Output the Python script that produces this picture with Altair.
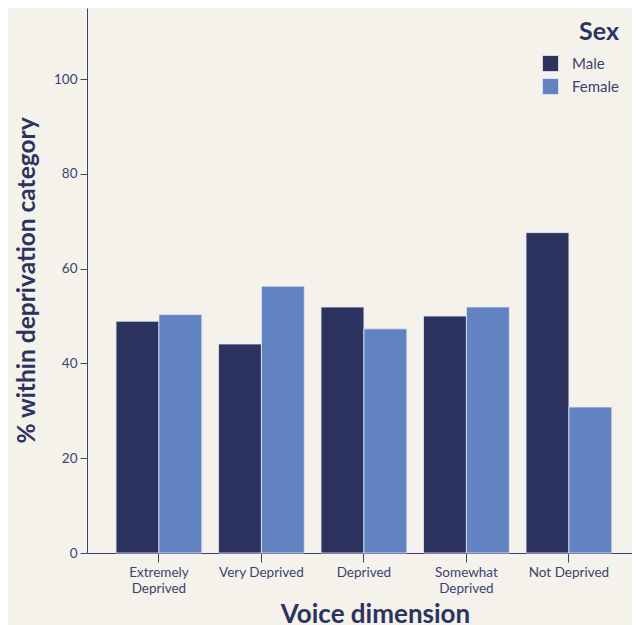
import altair as alt
import pandas as pd

categories = ["Extremely Deprived", "Very Deprived", "Deprived", "Somewhat Deprived", "Not Deprived"]
male = [48.9, 44.1, 51.9, 50.0, 67.6]
female = [50.3, 56.3, 47.3, 51.9, 30.8]
sexes = ["Male", "Female"]
colors = ["#2c335e", "#6283c2"]

rows = []
for c, m, f in zip(categories, male, female):
    rows.append({"dim": c, "sex": "Male", "pct": m})
    rows.append({"dim": c, "sex": "Female", "pct": f})
df = pd.DataFrame(rows)

FONT = "Lato"
TXT = "#3b4272"
DARK = "#2b3360"

label_expr = ("datum.value == 'Extremely Deprived' ? ['Extremely', 'Deprived'] : "
              "datum.value == 'Somewhat Deprived' ? ['Somewhat', 'Deprived'] : datum.value")

chart = alt.Chart(df).mark_bar(stroke="#e4e8f2", strokeWidth=0.8).encode(
    x=alt.X("dim:N", sort=categories,
            scale=alt.Scale(paddingInner=0.163, paddingOuter=0.24, align=0.59),
            axis=alt.Axis(title="Voice dimension", labelAngle=0, labelExpr=label_expr,
                          labelFont=FONT, labelFontSize=13.5, labelColor=TXT,
                          labelLineHeight=16, labelPadding=3, tickSize=9,
                          tickColor=TXT, domainColor=TXT, domainWidth=1,
                          titleFont=FONT, titleFontSize=26, titleFontWeight="bold",
                          titleColor=DARK, titleX=288, titleY=69,
                          titleAlign="center", titleBaseline="alphabetic")),
    xOffset=alt.XOffset("sex:N", sort=sexes),
    y=alt.Y("pct:Q", scale=alt.Scale(domain=[0, 115], nice=False),
            axis=alt.Axis(title="% within deprivation category", values=[0, 20, 40, 60, 80, 100],
                          grid=False, labelFont=FONT, labelFontSize=13.5, labelColor=TXT,
                          labelPadding=3, tickSize=7, tickColor=TXT, domainColor=TXT,
                          domainWidth=1,
                          titleFont=FONT, titleFontSize=24.5, titleFontWeight="bold",
                          titleColor=DARK, titleX=-60, titleY=272, titleAngle=-90,
                          titleAlign="center", titleBaseline="middle")),
    color=alt.Color("sex:N", sort=sexes,
                    scale=alt.Scale(domain=sexes, range=colors),
                    legend=alt.Legend(title="Sex", orient="none", legendX=455, legendY=12,
                                      titleFont=FONT, titleFontSize=25, titleFontWeight="bold",
                                      titleColor=DARK, titleAnchor="end", titlePadding=10,
                                      labelFont=FONT, labelFontSize=15, labelColor=TXT,
                                      labelOffset=13, symbolType="square", symbolSize=256,
                                      symbolStrokeWidth=0.8, symbolStrokeColor="#e4e8f2",
                                      rowPadding=2)),
).properties(
    width=545, height=545,
    autosize=alt.AutoSizeParams(type="none"),
    padding={"left": 79, "top": 0, "right": 0, "bottom": 72},
    background="#f5f2eb",
).configure_view(stroke=None)

chart.save("out.html", embed_options={"renderer": "svg", "actions": False})
